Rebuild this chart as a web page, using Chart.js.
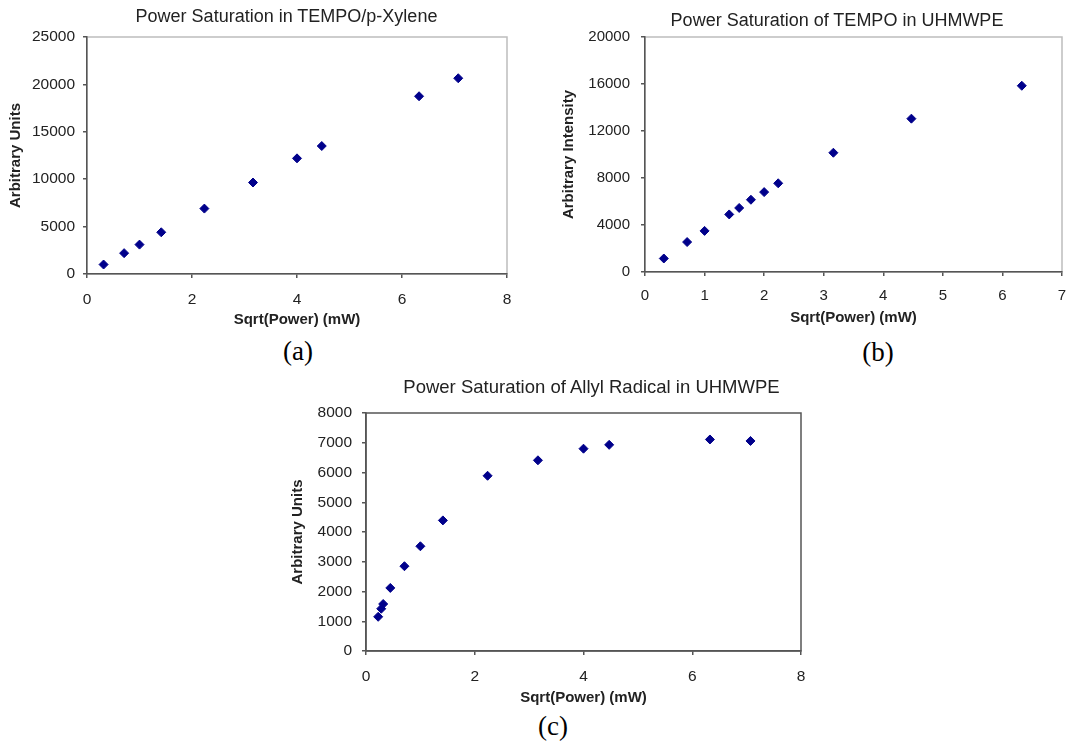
<!DOCTYPE html>
<html>
<head>
<meta charset="utf-8">
<script src="https://cdn.jsdelivr.net/npm/chart.js@4/dist/chart.umd.min.js"></script>
<style>
html, body { margin:0; padding:0; width:1072px; height:744px; overflow:hidden; background:#fff; position:relative; }
canvas { position:absolute; }
.lbl { position:absolute; font-family:"Liberation Serif", "Times New Roman", serif; font-size:27px; color:#000; transform:translate(-50%,-50%); white-space:nowrap; }
.ttl { position:absolute; font-family:"Liberation Sans", Arial, sans-serif; font-size:18px; line-height:1; color:#222; transform:translate(-50%,-50%); white-space:nowrap; }
</style>
</head>
<body>
<canvas id="chartA" width="540" height="330" style="left:0px;top:0px"></canvas>
<canvas id="chartB" width="538" height="330" style="left:540px;top:0px"></canvas>
<canvas id="chartC" width="623" height="340" style="left:280px;top:370px"></canvas>
<div class="ttl" style="left:286.5px;top:16px">Power Saturation in TEMPO/p-Xylene</div>
<div class="ttl" style="left:837px;top:20px">Power Saturation of TEMPO in UHMWPE</div>
<div class="ttl" style="left:591.5px;top:386.5px;font-size:18.5px">Power Saturation of Allyl Radical in UHMWPE</div>
<div class="lbl" style="left:298px;top:351px">(a)</div>
<div class="lbl" style="left:878px;top:352px">(b)</div>
<div class="lbl" style="left:553px;top:726px">(c)</div>
<script>
// (a) TEMPO / p-Xylene
var aX = [0.316, 0.707, 1, 1.414, 2.236, 3.162, 4, 4.472, 6.325, 7.071];
var aY = [1000, 2200, 3100, 4400, 6900, 9650, 12200, 13500, 18750, 20650];
// (b) TEMPO in UHMWPE
var bX = [0.316, 0.707, 1, 1.414, 1.581, 1.778, 2, 2.236, 3.162, 4.472, 6.325];
var bY = [1150, 2550, 3500, 4900, 5450, 6150, 6800, 7550, 10150, 13050, 15850];
// (c) Allyl radical in UHMWPE
var cX = [0.224, 0.28, 0.316, 0.447, 0.707, 1, 1.414, 2.236, 3.162, 4, 4.472, 6.325, 7.071];
var cY = [1150, 1420, 1580, 2120, 2850, 3520, 4390, 5890, 6410, 6800, 6930, 7110, 7060];

var xTitle = 'Sqrt(Power) (mW)';
var markerColor = '#00008b';
var textColor = '#222';

function toPoints(xs, ys){
	var pts = [];
	for (var i = 0; i < xs.length; i++) pts.push({x: xs[i], y: ys[i]});
	return pts;
}

// frame round the plot area (top/right sides)
var framePlugin = {
	id: 'frame',
	beforeDraw: function(chart, args, opts){
		var a = chart.chartArea, ctx = chart.ctx;
		ctx.save();
		ctx.strokeStyle = opts.color;
		ctx.lineWidth = 1.5;
		ctx.strokeRect(a.left, a.top, a.right - a.left, a.bottom - a.top);
		ctx.restore();
	}
};

function makeChart(id, xs, ys, s){
	return new Chart(document.getElementById(id), {
		type: 'scatter',
		data: {
			datasets: [{
				data: toPoints(xs, ys),
				pointStyle: 'rectRot',
				pointRadius: 4.5,
				pointHoverRadius: 4.5,
				backgroundColor: markerColor,
				borderColor: markerColor,
				borderWidth: 1
			}]
		},
		options: {
			responsive: false,
			animation: false,
			layout: { padding: { left: 0, right: s.padRight, top: s.padTop, bottom: 0 } },
			plugins: {
				legend: { display: false },
				tooltip: { enabled: false },
				frame: { color: s.frameColor }
			},
			scales: {
				x: {
					type: 'linear',
					min: 0, max: s.xMax,
					afterFit: function(sc){ sc.height = s.xHeight; },
					ticks: { stepSize: s.xStep, color: textColor, padding: s.xPad,
						font: { family: 'Liberation Sans', size: s.tickSize } },
					grid: { drawOnChartArea: false, drawTicks: true, tickLength: 4, color: '#555', lineWidth: 1.5 },
					border: { color: '#555', width: 1.5 },
					title: { display: true, text: xTitle, color: textColor,
						font: { family: 'Liberation Sans', size: 15, weight: 'bold', lineHeight: 1.2 },
						padding: { top: 0, bottom: s.xTitlePad } }
				},
				y: {
					min: 0, max: s.yMax,
					afterFit: function(sc){ sc.width = s.yWidth; },
					ticks: { stepSize: s.yStep, color: textColor, padding: s.yPad,
						font: { family: 'Liberation Sans', size: s.tickSize },
						callback: function(v){ return String(v); } },
					grid: { drawOnChartArea: false, drawTicks: true, tickLength: 4, color: '#555', lineWidth: 1.5 },
					border: { color: '#555', width: 1.5 },
					title: { display: true, text: s.yTitle, color: textColor,
						font: { family: 'Liberation Sans', size: 15, weight: 'bold', lineHeight: 1.2 },
						padding: { top: s.yTitlePad, bottom: 0 } }
				}
			}
		},
		plugins: [framePlugin]
	});
}

makeChart('chartA', aX, aY, {
	yTitle: 'Arbitrary Units',
	xMax: 8, xStep: 2, yMax: 25000, yStep: 5000,
	padRight: 33, padTop: 37,
	xHeight: 56, xPad: 12, xTitlePad: 1.5,
	yWidth: 87, yPad: 8, yTitlePad: 7,
	tickSize: 15.5, frameColor: '#bdbdbd'
});

makeChart('chartB', bX, bY, {
	yTitle: 'Arbitrary Intensity',
	xMax: 7, xStep: 1, yMax: 20000, yStep: 4000,
	padRight: 16, padTop: 37,
	xHeight: 58, xPad: 11, xTitlePad: 3.5,
	yWidth: 105, yPad: 11, yTitlePad: 19.5,
	tickSize: 15, frameColor: '#bdbdbd'
});

makeChart('chartC', cX, cY, {
	yTitle: 'Arbitrary Units',
	xMax: 8, xStep: 2, yMax: 8000, yStep: 1000,
	padRight: 102, padTop: 43,
	xHeight: 59, xPad: 12, xTitlePad: 3,
	yWidth: 86, yPad: 10, yTitlePad: 9,
	tickSize: 15.5, frameColor: '#555'
});
</script>
</body>
</html>
